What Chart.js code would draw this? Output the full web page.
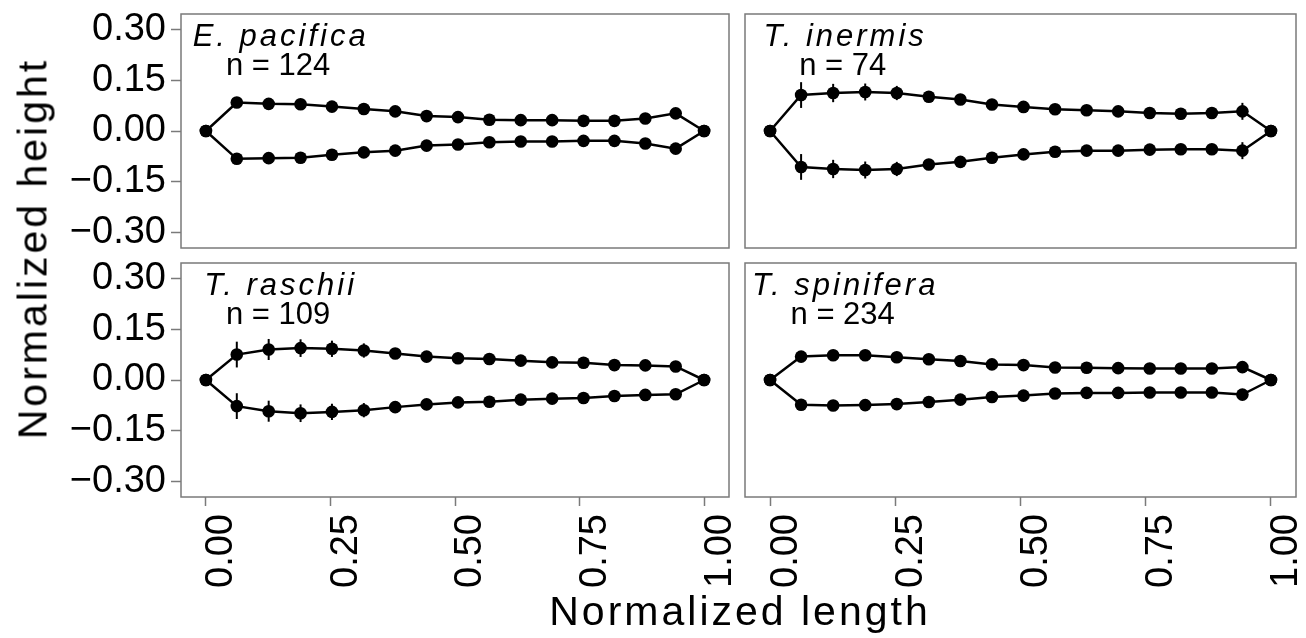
<!DOCTYPE html>
<html>
<head>
<meta charset="utf-8">
<script src="https://cdn.jsdelivr.net/npm/chart.js@4/dist/chart.umd.min.js"></script>
<style>
  html, body { margin: 0; padding: 0; background: #fff; }
  body { width: 1306px; height: 638px; position: relative; overflow: hidden;
         font-family: "Liberation Sans", Arial, sans-serif; }
  .panel { position: absolute; }
  .axis-title { position: absolute; font-size: 41px; line-height: 41px; color: #000;
                letter-spacing: 3px; white-space: nowrap; text-align: center; }
</style>
</head>
<body>
<div class="panel" style="left:0;top:0;width:735px;height:255px"><canvas id="c1"></canvas></div>
<div class="panel" style="left:737px;top:0;width:569px;height:255px"><canvas id="c2"></canvas></div>
<div class="panel" style="left:0;top:255px;width:735px;height:383px"><canvas id="c3"></canvas></div>
<div class="panel" style="left:737px;top:255px;width:569px;height:383px"><canvas id="c4"></canvas></div>
<div class="axis-title" style="left:490px;top:591px;width:500px;height:41px">Normalized length</div>
<div class="axis-title" style="left:-217px;top:228px;width:500px;height:41px;transform:rotate(-90deg)">Normalized height</div>

<script>
// ---- data ----
const xPos = [0, 0.062, 0.126, 0.190, 0.253, 0.317, 0.380, 0.443, 0.506, 0.569, 0.632, 0.695, 0.758, 0.820, 0.882, 0.943, 1];
const xTicks = [0, 0.25, 0.5, 0.75, 1];
const yTicks = [-0.30, -0.15, 0, 0.15, 0.30];

const species = ['E. pacifica', 'T. inermis', 'T. raschii', 'T. spinifera'];
const counts = [124, 74, 109, 234];

const pacificaUpper = [0, 0.084, 0.080, 0.079, 0.072, 0.065, 0.058, 0.044, 0.041, 0.033, 0.032, 0.032, 0.030, 0.030, 0.037, 0.052, 0];
const pacificaLower = [0, -0.082, -0.080, -0.079, -0.070, -0.063, -0.058, -0.043, -0.040, -0.033, -0.031, -0.031, -0.029, -0.029, -0.037, -0.052, 0];
const pacificaErr = [0, 0.005, 0.004, 0.004, 0.004, 0.003, 0.003, 0.003, 0.003, 0.003, 0.003, 0.003, 0.003, 0.003, 0.003, 0.005, 0];

const inermisUpper = [0, 0.106, 0.112, 0.115, 0.112, 0.101, 0.093, 0.078, 0.071, 0.064, 0.061, 0.058, 0.053, 0.051, 0.053, 0.058, 0];
const inermisLower = [0, -0.106, -0.112, -0.115, -0.112, -0.099, -0.091, -0.079, -0.069, -0.061, -0.058, -0.058, -0.055, -0.054, -0.054, -0.058, 0];
const inermisErr = [0, 0.038, 0.027, 0.025, 0.021, 0.007, 0.005, 0.004, 0.004, 0.004, 0.004, 0.004, 0.004, 0.004, 0.004, 0.025, 0];

const raschiiUpper = [0, 0.075, 0.090, 0.094, 0.092, 0.087, 0.078, 0.069, 0.064, 0.062, 0.057, 0.052, 0.051, 0.044, 0.043, 0.040, 0];
const raschiiLower = [0, -0.077, -0.092, -0.098, -0.094, -0.089, -0.080, -0.072, -0.066, -0.064, -0.058, -0.055, -0.053, -0.047, -0.044, -0.042, 0];
const raschiiErr = [0, 0.038, 0.031, 0.026, 0.024, 0.021, 0.006, 0.004, 0.004, 0.004, 0.004, 0.004, 0.004, 0.004, 0.004, 0.004, 0];

const spiniferaUpper = [0, 0.069, 0.073, 0.073, 0.067, 0.061, 0.056, 0.046, 0.044, 0.037, 0.036, 0.035, 0.034, 0.034, 0.034, 0.038, 0];
const spiniferaLower = [0, -0.073, -0.075, -0.074, -0.071, -0.065, -0.058, -0.050, -0.046, -0.040, -0.038, -0.038, -0.037, -0.037, -0.037, -0.043, 0];
const spiniferaErr = [0, 0.006, 0.004, 0.004, 0.004, 0.003, 0.003, 0.003, 0.003, 0.003, 0.003, 0.003, 0.003, 0.003, 0.003, 0.004, 0];

const FONT = '"Liberation Sans", Arial, sans-serif';
const GREY = '#7a7a7a';

// error bars drawn through the chart scales
const errorBars = {
  id: 'errorBars',
  afterDatasetsDraw(chart) {
    const { ctx, scales: { x, y } } = chart;
    ctx.save();
    ctx.strokeStyle = '#000';
    ctx.lineWidth = 2;
    chart.data.datasets.forEach((ds) => {
      (ds.err || []).forEach((e, i) => {
        if (!e) return;
        const p = ds.data[i];
        const px = x.getPixelForValue(p.x);
        ctx.beginPath();
        ctx.moveTo(px, y.getPixelForValue(p.y - e));
        ctx.lineTo(px, y.getPixelForValue(p.y + e));
        ctx.stroke();
      });
    });
    ctx.restore();
  },
};

// panel border + facet labels
const panelDeco = {
  id: 'panelDeco',
  afterDraw(chart, args, opts) {
    const { ctx, chartArea: a, scales: { x } } = chart;
    ctx.save();
    ctx.strokeStyle = GREY;
    ctx.lineWidth = 1.5;
    ctx.strokeRect(a.left, a.top, a.right - a.left, a.bottom - a.top);
    ctx.fillStyle = '#000';
    ctx.textAlign = 'center';
    ctx.textBaseline = 'alphabetic';
    ctx.font = 'italic 31px ' + FONT;
    ctx.letterSpacing = '3px';
    ctx.fillText(opts.title, x.getPixelForValue(0.15), a.top + 32);
    ctx.letterSpacing = '0px';
    ctx.font = '31px ' + FONT;
    ctx.fillText('n = ' + opts.n, x.getPixelForValue(0.145), a.top + 61);
    ctx.restore();
  },
};

const fmtY = (v) => (v < 0 ? '\u2212' : '') + Math.abs(v).toFixed(2);

// keep label overhang from shrinking the panel
const noPad = (s) => { s.paddingTop = 0; s.paddingBottom = 0; s.paddingLeft = 0; s.paddingRight = 0; };

function makePanel(id, idx, upper, lower, err, showX, showY, padding) {
  const series = (vals) => xPos.map((x, i) => ({ x: x, y: vals[i] }));
  const dsStyle = {
    showLine: true,
    borderColor: '#000',
    borderWidth: 2.5,
    backgroundColor: '#000',
    pointRadius: 6.3,
    pointBorderWidth: 0,
    err: err,
  };
  new Chart(document.getElementById(id), {
    type: 'scatter',
    data: {
      datasets: [
        Object.assign({ data: series(upper) }, dsStyle),
        Object.assign({ data: series(lower) }, dsStyle),
      ],
    },
    options: {
      responsive: true,
      maintainAspectRatio: false,
      animation: false,
      layout: { padding: padding, autoPadding: false },
      plugins: {
        legend: { display: false },
        tooltip: { enabled: false },
        panelDeco: { title: species[idx], n: counts[idx] },
      },
      scales: {
        x: {
          type: 'linear', min: -0.05, max: 1.05, display: showX,
          afterBuildTicks: (s) => { s.ticks = xTicks.map((v) => ({ value: v })); },
          afterFit: (s) => { noPad(s); if (showX) s.height = 141; },
          grid: { drawOnChartArea: false, drawTicks: true, tickLength: 9, tickColor: GREY, tickWidth: 1.5 },
          border: { display: false },
          ticks: {
            color: '#000', font: { family: FONT, size: 38 },
            maxRotation: 90, minRotation: 90, autoSkip: false, padding: 8, labelOffset: 16,
            callback: (v) => v.toFixed(2),
          },
        },
        y: {
          type: 'linear', min: -0.345, max: 0.345, display: showY,
          afterBuildTicks: (s) => { s.ticks = yTicks.map((v) => ({ value: v })); },
          afterFit: (s) => { noPad(s); if (showY) s.width = 181; },
          grid: { drawOnChartArea: false, drawTicks: true, tickLength: 10, tickColor: GREY, tickWidth: 1.5 },
          border: { display: false },
          ticks: { color: '#000', font: { family: FONT, size: 38 }, padding: 5, callback: fmtY },
        },
      },
    },
    plugins: [errorBars, panelDeco],
  });
}

makePanel('c1', 0, pacificaUpper, pacificaLower, pacificaErr, false, true, { left: 0, top: 14, right: 6, bottom: 7 });
makePanel('c2', 1, inermisUpper, inermisLower, inermisErr, false, false, { left: 8, top: 14, right: 10, bottom: 7 });
makePanel('c3', 2, raschiiUpper, raschiiLower, raschiiErr, true, true, { left: 0, top: 8, right: 6, bottom: 0 });
makePanel('c4', 3, spiniferaUpper, spiniferaLower, spiniferaErr, true, false, { left: 8, top: 8, right: 10, bottom: 0 });
</script>
</body>
</html>
